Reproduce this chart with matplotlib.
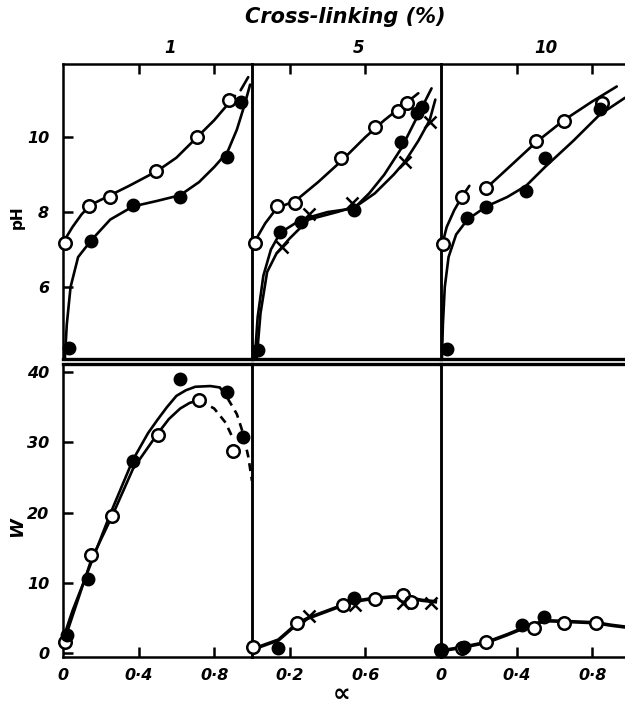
import numpy as np
import matplotlib
matplotlib.use("Agg")
import matplotlib.pyplot as plt

# ---- data (alpha, value) ----
nan = np.nan

# top row: pH vs alpha, 1 %, 5 %, 10 % cross-linking
ph1_open_a = [0.01, 0.14, 0.25, 0.49, 0.71, 0.88]
ph1_open_v = [7.18, 8.16, 8.41, 9.09, 10.0, 10.99]
ph1_fill_a = [0.03, 0.15, 0.37, 0.62, 0.87, 0.94]
ph1_fill_v = [4.37, 7.23, 8.19, 8.41, 9.48, 10.94]
ph1_open_line_a = [0.0, 0.02, 0.05, 0.1, 0.15, 0.25, 0.35, 0.5, 0.6, 0.7, 0.8, 0.91, nan, 0.94, 0.98]
ph1_open_line_v = [7.05, 7.35, 7.6, 7.95, 8.2, 8.45, 8.7, 9.1, 9.45, 9.95, 10.45, 11.1, nan, 11.25, 11.6]
ph1_fill_line_a = [0.01, 0.02, 0.04, 0.08, 0.15, 0.25, 0.37, 0.5, 0.62, 0.72, 0.8, 0.87, 0.92, 0.96, 0.99]
ph1_fill_line_v = [4.1, 5.0, 6.0, 6.8, 7.25, 7.8, 8.15, 8.3, 8.45, 8.8, 9.2, 9.6, 10.2, 10.85, 11.4]

ph5_open_a = [0.016, 0.13, 0.23, 0.47, 0.65, 0.77, 0.82]
ph5_open_v = [7.17, 8.17, 8.23, 9.43, 10.28, 10.7, 10.92]
ph5_fill_a = [0.03, 0.15, 0.26, 0.54, 0.79, 0.875, 0.90]
ph5_fill_v = [4.32, 7.48, 7.74, 8.05, 9.88, 10.63, 10.8]
ph5_cross_a = [0.16, 0.30, 0.53, 0.81, 0.94]
ph5_cross_v = [7.08, 7.94, 8.25, 9.34, 10.41]
ph5_open_line_a = [0.0, 0.03, 0.07, 0.13, 0.23, 0.35, 0.47, 0.6, 0.7, 0.8, 0.88]
ph5_open_line_v = [7.0, 7.35, 7.7, 8.1, 8.3, 8.8, 9.35, 10.0, 10.45, 10.85, 11.17]
ph5_fill_line_a = [0.015, 0.03, 0.06, 0.1, 0.15, 0.26, 0.4, 0.54, 0.62, 0.7, 0.79, 0.86, 0.92, 0.95]
ph5_fill_line_v = [4.1, 5.2, 6.3, 7.0, 7.45, 7.8, 8.0, 8.1, 8.5, 9.0, 9.7, 10.4, 11.0, 11.3]
ph5_cross_line_a = [0.025, 0.045, 0.08, 0.13, 0.2, 0.3, 0.45, 0.55, 0.65, 0.75, 0.81, 0.88, 0.94, 0.97]
ph5_cross_line_v = [4.1, 5.3, 6.4, 6.9, 7.3, 7.8, 8.0, 8.15, 8.5, 9.0, 9.35, 9.9, 10.45, 11.0]

ph10_open_a = [0.01, 0.11, 0.24, 0.50, 0.65, 0.85]
ph10_open_v = [7.14, 8.41, 8.63, 9.89, 10.43, 10.92]
ph10_fill_a = [0.03, 0.14, 0.24, 0.45, 0.55, 0.84]
ph10_fill_v = [4.36, 7.83, 8.14, 8.56, 9.43, 10.74]
ph10_open_line_a = [0.0, 0.03, 0.07, 0.11, 0.15, nan, 0.22, 0.35, 0.5, 0.65, 0.8, 0.93]
ph10_open_line_v = [7.0, 7.6, 8.05, 8.4, 8.7, nan, 8.55, 9.15, 9.85, 10.45, 10.95, 11.35]
ph10_fill_line_a = [0.005, 0.01, 0.02, 0.04, 0.08, 0.14, 0.24, 0.35, 0.45, 0.55, 0.7, 0.84, 0.974]
ph10_fill_line_v = [4.1, 5.0, 6.0, 6.8, 7.4, 7.8, 8.15, 8.4, 8.7, 9.2, 9.9, 10.6, 11.05]

# bottom row: W vs alpha
w1_open_a = [0.01, 0.15, 0.26, 0.50, 0.72, 0.90]
w1_open_v = [1.5, 13.9, 19.5, 31.0, 36.0, 28.8]
w1_fill_a = [0.02, 0.13, 0.37, 0.62, 0.87, 0.95]
w1_fill_v = [2.6, 10.6, 27.4, 39.0, 37.2, 30.8]
w1_fill_line_a = [0.0, 0.05, 0.13, 0.25, 0.37, 0.45, 0.5, 0.55, 0.6, 0.65, 0.7, 0.78, 0.83]
w1_fill_line_v = [2.0, 6.0, 11.5, 19.8, 27.5, 31.3, 33.2, 35.0, 36.6, 37.4, 37.9, 38.0, 37.8]
w1_fill_dash_a = [0.83, 0.87, 0.92, 0.95, 0.98, 1.0]
w1_fill_dash_v = [37.8, 36.3, 34.0, 31.5, 28.0, 24.5]
w1_open_line_a = [0.0, 0.15, 0.26, 0.37, 0.5, 0.56, 0.62, 0.67, 0.72]
w1_open_line_v = [1.2, 13.3, 19.5, 26.2, 31.2, 33.3, 34.8, 35.6, 36.0]
w1_open_dash_a = [0.72, 0.8, 0.86, 0.90]
w1_open_dash_v = [36.0, 34.8, 32.8, 30.5]

w5_open_a = [0.005, 0.24, 0.48, 0.65, 0.80, 0.84]
w5_open_v = [0.8, 4.2, 6.8, 7.7, 8.3, 7.3]
w5_fill_a = [0.14, 0.54]
w5_fill_v = [0.7, 7.8]
w5_cross_a = [0.30, 0.545, 0.80, 0.945]
w5_cross_v = [5.2, 6.8, 7.1, 7.1]
w5_line_a = [0.0, 0.14, 0.24, 0.3, 0.4, 0.48, 0.55, 0.65, 0.75, 0.82, 0.9, 0.97]
w5_line_v = [0.5, 1.85, 4.2, 5.0, 6.0, 6.8, 7.4, 7.8, 8.0, 7.9, 7.5, 7.3]

w10_open_a = [0.0, 0.11, 0.24, 0.49, 0.65, 0.82]
w10_open_v = [0.4, 0.7, 1.5, 3.6, 4.3, 4.2]
w10_fill_a = [0.0, 0.12, 0.43, 0.545]
w10_fill_v = [0.3, 0.8, 4.0, 5.1]
w10_line_a = [0.0, 0.11, 0.24, 0.35, 0.45, 0.55, 0.65, 0.82, 0.9, 0.974]
w10_line_v = [0.3, 0.8, 1.5, 2.6, 3.7, 4.6, 4.5, 4.3, 3.95, 3.7]

crosslinks = ["1", "5", "10"]

# ---- layout (pixels of a 625 x 709 canvas) ----
W, H = 625, 709
fig = plt.figure(figsize=(W / 100, H / 100), dpi=100)
plt.rcParams['font.family'] = ['DejaVu Sans']

LW = 1.9
FONT = dict(fontweight='bold', fontstyle='italic')


def px_axes(x0, y0, x1, y1):
    return fig.add_axes([x0 / W, 1 - y1 / H, (x1 - x0) / W, (y1 - y0) / H])


def fmt(v):
    if v == 0:
        return "0"
    return ("%.1f" % v).replace(".", "\u00b7")


cols = [(63, 252), (252, 441), (441, 625)]
top_axes = []
bot_axes = []
for i, (x0, x1) in enumerate(cols):
    at = px_axes(x0, 64, x1, 359)
    ab = px_axes(x0, 364, x1, 657)
    top_axes.append(at)
    bot_axes.append(ab)
    xmax = (x1 - x0) / 189.0
    for ax in (at, ab):
        ax.set_xlim(0, xmax)
        ax.set_facecolor('none')
        for s in ax.spines.values():
            s.set_linewidth(1.8)
        ax.spines['right'].set_visible(i < 2)
        ax.tick_params(direction='in', length=7, width=1.8, labelsize=11.5, pad=8)
    at.spines['bottom'].set_linewidth(2.4)
    ab.spines['top'].set_linewidth(2.4)
    at.set_ylim(4.08, 11.95)
    ab.set_ylim(-0.57, 41.14)
    ticks = [0.2, 0.6] if i == 1 else [0.4, 0.8]
    at.set_xticks(ticks)
    at.tick_params(axis='x', top=True, bottom=False, labeltop=False, labelbottom=False)
    if i == 1:
        ab.set_xticks([0.2, 0.6], [fmt(0.2), fmt(0.6)])
    else:
        ab.set_xticks([0.0, 0.4, 0.8], [fmt(0.0), fmt(0.4), fmt(0.8)])
        ab.xaxis.get_major_ticks()[0].tick1line.set_visible(False)
    for lab in ab.get_xticklabels():
        lab.set_fontweight('bold')
        lab.set_fontstyle('italic')
    if i == 0:
        at.set_yticks([6, 8, 10], ["6", "8", "10"])
        ab.set_yticks([0, 10, 20, 30, 40], ["0", "10", "20", "30", "40"])
        for ax in (at, ab):
            ax.tick_params(axis='y', pad=10)
            for lab in ax.get_yticklabels():
                lab.set_fontweight('bold')
                lab.set_fontstyle('italic')
    else:
        at.set_yticks([])
        ab.set_yticks([])
    at.text((x0 + x1) / 2 / W + 0.02, 1 - 48 / H, crosslinks[i],
            transform=fig.transFigure, ha='center', va='center', fontsize=12, **FONT)

mk_open = dict(marker='o', ms=9, mfc='white', mec='black', mew=1.8, ls='none', zorder=5, clip_on=False)
mk_fill = dict(marker='o', ms=9, mfc='black', mec='black', ls='none', zorder=6, clip_on=False)
mk_cross = dict(marker='x', ms=8, mec='black', mew=1.8, ls='none', zorder=6, clip_on=False)
ln = dict(color='black', lw=LW, zorder=3, solid_capstyle='round')
dash = dict(color='black', lw=LW, ls=(0, (3, 2.2)), zorder=3)

# top row
ax = top_axes[0]
ax.plot(ph1_open_line_a, ph1_open_line_v, **ln)
ax.plot(ph1_fill_line_a, ph1_fill_line_v, **ln)
ax.plot(ph1_open_a, ph1_open_v, **mk_open)
ax.plot(ph1_fill_a, ph1_fill_v, **mk_fill)

ax = top_axes[1]
ax.plot(ph5_open_line_a, ph5_open_line_v, **ln)
ax.plot(ph5_fill_line_a, ph5_fill_line_v, **ln)
ax.plot(ph5_cross_line_a, ph5_cross_line_v, **ln)
ax.plot(ph5_open_a, ph5_open_v, **mk_open)
ax.plot(ph5_fill_a, ph5_fill_v, **mk_fill)
ax.plot(ph5_cross_a, ph5_cross_v, **mk_cross)

ax = top_axes[2]
ax.plot(ph10_open_line_a, ph10_open_line_v, **ln)
ax.plot(ph10_fill_line_a, ph10_fill_line_v, **ln)
ax.plot(ph10_open_a, ph10_open_v, **mk_open)
ax.plot(ph10_fill_a, ph10_fill_v, **mk_fill)

# bottom row
ax = bot_axes[0]
ax.plot(w1_fill_line_a, w1_fill_line_v, **ln)
ax.plot(w1_fill_dash_a, w1_fill_dash_v, **dash)
ax.plot(w1_open_line_a, w1_open_line_v, **ln)
ax.plot(w1_open_dash_a, w1_open_dash_v, **dash)
ax.plot(w1_open_a, w1_open_v, **mk_open)
ax.plot(w1_fill_a, w1_fill_v, **mk_fill)

ax = bot_axes[1]
ax.plot(w5_line_a, w5_line_v, color='black', lw=2.6, zorder=3)
ax.plot(w5_open_a, w5_open_v, **mk_open)
ax.plot(w5_fill_a, w5_fill_v, **mk_fill)
ax.plot(w5_cross_a, w5_cross_v, **mk_cross)

ax = bot_axes[2]
ax.plot(w10_line_a, w10_line_v, color='black', lw=2.6, zorder=3)
ax.plot(w10_open_a, w10_open_v, **mk_open)
ax.plot(w10_fill_a, w10_fill_v, **mk_fill)

# labels
fig.text(345 / W, 1 - 17 / H, "Cross-linking (%)", ha='center', va='center', fontsize=15, **FONT)
fig.text(17 / W, 1 - 217 / H, "pH", rotation=90, ha='center', va='center', fontsize=11, fontweight='bold')
fig.text(17 / W, 1 - 527 / H, "W", rotation=90, ha='center', va='center', fontsize=13, **FONT)
fig.text(342 / W, 1 - 694 / H, "\u221d", ha='center', va='center', fontsize=18, fontweight='bold')

fig.savefig("out.png", dpi=100)
